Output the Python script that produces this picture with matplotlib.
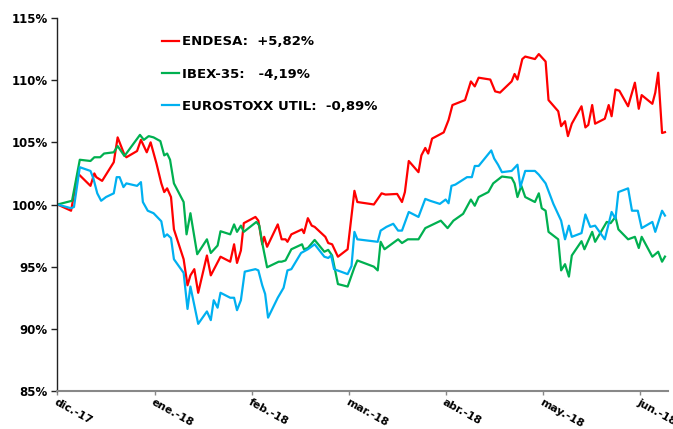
import matplotlib
matplotlib.use("Agg")
import matplotlib.pyplot as plt

# x = months since 1 Dec 2017 (0 = dic.-17), y = index level in %
month_labels = ["dic.-17", "ene.-18", "feb.-18", "mar.-18", "abr.-18", "may.-18", "jun.-18"]

endesa_x = [0.00, 0.14, 0.21, 0.34, 0.38, 0.40, 0.46, 0.58, 0.62, 0.69, 0.71, 0.82, 0.86, 0.92,
            0.96, 1.02, 1.07, 1.10, 1.13, 1.17, 1.20, 1.30, 1.34, 1.37, 1.41, 1.45, 1.54, 1.58,
            1.68, 1.78, 1.82, 1.85, 1.89, 1.92, 2.04, 2.07, 2.11, 2.13, 2.16, 2.27, 2.31, 2.35,
            2.37, 2.41, 2.52, 2.54, 2.58, 2.62, 2.65, 2.76, 2.79, 2.83, 2.89, 2.99, 3.06, 3.09,
            3.22, 3.26, 3.34, 3.38, 3.50, 3.55, 3.58, 3.62, 3.72, 3.75, 3.79, 3.82, 3.86, 3.98,
            4.03, 4.07, 4.20, 4.26, 4.30, 4.34, 4.46, 4.51, 4.56, 4.68, 4.71, 4.74, 4.79, 4.82,
            4.92, 4.96, 5.03, 5.06, 5.16, 5.19, 5.23, 5.26, 5.30, 5.40, 5.44, 5.47, 5.51, 5.54,
            5.64, 5.68, 5.71, 5.75, 5.79, 5.88, 5.95, 5.99, 6.02, 6.13, 6.16, 6.19, 6.23, 6.26]
endesa_y = [100.0, 99.5, 102.5, 101.5, 102.5, 102.2, 101.9, 103.4, 105.4, 104.0, 103.8, 104.3,
            105.2, 104.2, 105.0, 103.3, 101.7, 101.0, 101.3, 100.6, 98.0, 95.6, 93.5, 94.3, 94.8,
            92.9, 95.9, 94.3, 95.8, 95.4, 96.8, 95.3, 96.3, 98.5, 99.0, 98.7, 96.8, 97.4, 96.6,
            98.4, 97.2, 97.2, 97.0, 97.6, 98.0, 97.7, 98.9, 98.3, 98.2, 97.4, 96.9, 96.8, 95.8,
            96.4, 101.1, 100.2, 100.05, 100.0, 100.9, 100.8, 100.85, 100.2, 101.0, 103.5, 102.6,
            103.95, 104.55, 104.1, 105.3, 105.8, 106.8, 108.0, 108.4, 109.9, 109.5, 110.2, 110.05,
            109.1, 109.0, 109.9, 110.5, 110.05, 111.7, 111.9, 111.7, 112.1, 111.5, 108.4, 107.5,
            106.3, 106.7, 105.5, 106.5, 107.9, 106.2, 106.4, 108.0, 106.5, 106.9, 108.0, 107.1,
            109.25, 109.15, 107.9, 109.8, 107.7, 108.8, 108.1, 109.0, 110.6, 105.75, 105.82]

ibex_x = [0.00, 0.15, 0.23, 0.34, 0.38, 0.44, 0.48, 0.58, 0.62, 0.69, 0.85, 0.89, 0.94, 0.99,
          1.06, 1.10, 1.13, 1.16, 1.20, 1.30, 1.33, 1.37, 1.44, 1.54, 1.58, 1.65, 1.68, 1.78,
          1.82, 1.85, 1.89, 1.92, 2.05, 2.08, 2.11, 2.16, 2.28, 2.31, 2.35, 2.41, 2.52, 2.54,
          2.58, 2.65, 2.75, 2.79, 2.83, 2.89, 2.99, 3.06, 3.09, 3.26, 3.30, 3.33, 3.37, 3.51,
          3.55, 3.61, 3.72, 3.79, 3.95, 4.02, 4.08, 4.18, 4.26, 4.30, 4.34, 4.44, 4.49, 4.58,
          4.68, 4.71, 4.74, 4.78, 4.82, 4.92, 4.96, 4.99, 5.03, 5.06, 5.16, 5.19, 5.23, 5.27,
          5.30, 5.40, 5.43, 5.51, 5.54, 5.66, 5.70, 5.75, 5.78, 5.88, 5.95, 5.99, 6.02, 6.13,
          6.19, 6.23, 6.26]
ibex_y = [100.0, 100.3, 103.6, 103.5, 103.8, 103.8, 104.1, 104.2, 104.7, 103.9, 105.6, 105.2,
          105.5, 105.4, 105.1, 103.95, 104.1, 103.6, 101.7, 100.2, 97.6, 99.3, 96.0, 97.2, 96.1,
          96.7, 97.85, 97.6, 98.4, 97.8, 98.3, 97.8, 98.6, 98.3, 96.9, 94.95, 95.4, 95.4, 95.5,
          96.4, 96.8, 96.4, 96.5, 97.15, 96.2, 96.35, 95.9, 93.6, 93.4, 94.95, 95.5, 95.0, 94.7,
          97.0, 96.4, 97.2, 96.9, 97.2, 97.2, 98.1, 98.7, 98.1, 98.7, 99.25, 100.4, 99.9, 100.6,
          101.0, 101.7, 102.25, 102.15, 101.7, 100.6, 101.5, 100.6, 100.2, 100.9, 99.7, 99.5,
          97.8, 97.2, 94.7, 95.2, 94.2, 95.9, 97.05, 96.4, 97.8, 97.0, 98.6, 98.5, 99.0, 98.0,
          97.2, 97.4, 96.5, 97.4, 95.8, 96.2, 95.4, 95.81]

stoxx_x = [0.00, 0.14, 0.17, 0.23, 0.34, 0.37, 0.41, 0.45, 0.50, 0.58, 0.61, 0.64, 0.68, 0.71,
           0.82, 0.86, 0.88, 0.93, 0.99, 1.07, 1.10, 1.13, 1.17, 1.20, 1.30, 1.34, 1.37, 1.45,
           1.54, 1.58, 1.61, 1.65, 1.68, 1.78, 1.82, 1.85, 1.89, 1.93, 2.04, 2.07, 2.11, 2.14,
           2.17, 2.27, 2.33, 2.37, 2.41, 2.51, 2.58, 2.65, 2.75, 2.79, 2.82, 2.85, 2.99, 3.03,
           3.06, 3.09, 3.30, 3.33, 3.39, 3.46, 3.51, 3.55, 3.62, 3.72, 3.79, 3.84, 3.94, 4.00,
           4.03, 4.06, 4.10, 4.22, 4.27, 4.30, 4.34, 4.47, 4.50, 4.54, 4.58, 4.68, 4.74, 4.77,
           4.82, 4.92, 4.96, 5.03, 5.11, 5.19, 5.23, 5.27, 5.30, 5.40, 5.44, 5.49, 5.54, 5.64,
           5.71, 5.75, 5.78, 5.88, 5.92, 5.98, 6.02, 6.13, 6.16, 6.23, 6.26]
stoxx_y = [100.0, 99.7, 99.8, 103.0, 102.7, 102.1, 100.9, 100.3, 100.6, 100.9, 102.2, 102.2,
           101.4, 101.7, 101.5, 101.8, 100.2, 99.5, 99.3, 98.65, 97.4, 97.6, 97.3, 95.6, 94.5,
           91.6, 93.4, 90.4, 91.4, 90.7, 92.3, 91.7, 92.9, 92.5, 92.5, 91.5, 92.3, 94.6, 94.8,
           94.7, 93.5, 92.8, 90.9, 92.5, 93.3, 94.7, 94.8, 96.1, 96.4, 96.8, 95.8, 95.7, 95.9,
           94.8, 94.4, 95.05, 97.8, 97.2, 97.0, 97.9, 98.2, 98.45, 97.9, 97.9, 99.4, 99.0, 100.45,
           100.3, 100.05, 100.4, 100.1, 101.5, 101.6, 102.2, 102.2, 103.1, 103.1, 104.35, 103.7,
           103.2, 102.6, 102.7, 103.2, 101.4, 102.7, 102.7, 102.4, 101.7, 100.05, 98.7, 97.2, 98.3,
           97.4, 97.7, 99.2, 98.2, 98.3, 97.2, 99.4, 98.85, 101.0, 101.3, 99.5, 99.5, 98.1, 98.6,
           97.8, 99.5, 99.11]

y_ticks = [85, 90, 95, 100, 105, 110, 115]

fig = plt.figure(figsize=(6.73, 4.29), dpi=100)
ax = fig.add_axes([0.0854, 0.0886, 0.907, 0.8694])

ax.plot(endesa_x, endesa_y, color="#FF0000", lw=1.6, label="ENDESA:  +5,82%")
ax.plot(ibex_x, ibex_y, color="#00B050", lw=1.6, label="IBEX-35:   -4,19%")
ax.plot(stoxx_x, stoxx_y, color="#00B0F0", lw=1.6, label="EUROSTOXX UTIL:  -0,89%")

ax.set_xlim(0, 6.29)
ax.set_ylim(85, 115)
ax.set_yticks(y_ticks)
ax.set_yticklabels([f"{v}%" for v in y_ticks], fontsize=8.5, fontweight="bold")
ax.set_xticks(range(len(month_labels)))
ax.set_xticklabels(month_labels, fontsize=7.8, fontweight="bold",
                   rotation=-29, ha="left", va="top", rotation_mode="anchor")

for s in ["top", "right"]:
    ax.spines[s].set_visible(False)
ax.spines["left"].set_color("#222222")
ax.spines["bottom"].set_color("#888888")
ax.spines["left"].set_linewidth(1.0)
ax.spines["bottom"].set_linewidth(1.5)
ax.tick_params(axis="y", length=4, width=1, color="#222222", pad=3)
ax.tick_params(axis="x", length=3, width=1, color="#888888", pad=1.5)

leg = ax.legend(loc="upper left", bbox_to_anchor=(0.152, 0.985), frameon=False,
                prop={"weight": "bold", "size": 9.5}, handlelength=1.3,
                handletextpad=0.2, labelspacing=1.45)

fig.savefig("out.png", dpi=100)
